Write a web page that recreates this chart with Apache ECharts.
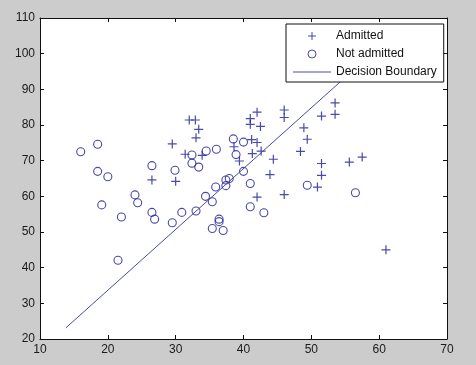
<!DOCTYPE html>
<html>
<head>
<meta charset="utf-8">
<script src="https://cdn.jsdelivr.net/npm/echarts@6/dist/echarts.min.js"></script>
<style>
html,body{margin:0;padding:0;background:#cccccc;}
#chart{width:476px;height:365px;}
</style>
</head>
<body>
<div id="chart"></div>
<script>
var seriesNames = ['Admitted', 'Not admitted', 'Decision Boundary'];
var admitted = [
  [32.0,81.4],[32.9,81.4],[33.4,78.8],[33.0,76.4],[29.5,74.7],[31.4,71.8],[33.9,71.5],[26.5,64.6],[30.0,64.2],
  [41.0,81.8],[41.0,80.2],[42.0,83.6],[42.5,79.6],[41.2,75.9],[42.0,75.1],[38.6,73.9],[41.3,72.0],[42.6,72.7],
  [39.4,69.9],[44.4,70.4],[43.9,66.1],[42.0,59.8],[46.0,84.2],[46.0,82.1],[46.0,60.5],[48.9,79.2],[49.4,76.0],
  [48.4,72.6],[51.5,82.5],[53.5,86.2],[53.5,83.0],[51.5,69.2],[51.5,65.9],[50.9,62.6],[55.6,69.6],[57.5,71.0],
  [61.0,45.0]
];
var notAdmitted = [
  [16.0,72.5],[18.5,74.6],[18.5,67.0],[20.0,65.5],[19.1,57.6],[22.0,54.2],[21.5,42.1],[24.0,60.4],[24.4,58.2],
  [26.5,68.6],[26.5,55.5],[26.9,53.6],[29.5,52.6],[29.9,67.3],[30.9,55.5],[32.4,71.6],[32.4,69.3],[33.4,68.2],
  [33.0,55.9],[34.5,72.7],[34.4,60.0],[35.4,58.5],[35.4,51.0],[36.0,73.2],[35.9,62.6],[36.4,53.6],[36.4,52.9],
  [37.0,50.4],[37.4,64.6],[37.4,63.0],[37.9,65.0],[38.5,76.1],[38.9,71.7],[40.0,75.2],[40.0,67.0],[41.0,63.6],
  [41.0,57.1],[43.0,55.4],[49.4,63.1],[56.5,61.0]
];
var boundary = [[13.8,23.1],[63.0,107.0]];
var xTicks = {min: 10, max: 70, interval: 10};
var yTicks = {min: 20, max: 110, interval: 10};

var markColor = '#1c1c96';
var lineColor = '#4a4aa6';
var font = 'Liberation Sans, Arial, sans-serif';
var plusPath = 'path://M0,5L10,5M5,0L5,10';

function axisCommon(showLabel) {
  return {
    axisLine: {show: true, onZero: false, lineStyle: {color: '#111', width: 1}},
    axisTick: {show: true, inside: true, length: 4, lineStyle: {color: '#111'}},
    axisLabel: {show: showLabel, color: '#1a1a1a', fontSize: 12, fontFamily: font, margin: 5},
    splitLine: {show: false}
  };
}

var chart = echarts.init(document.getElementById('chart'), null, {renderer: 'canvas'});
var option = {
  backgroundColor: '#cccccc',
  animation: false,
  grid: {left: 40, top: 18, right: 29, bottom: 26, show: true, backgroundColor: '#ffffff', borderWidth: 0},
  xAxis: [
    Object.assign({type: 'value', position: 'bottom'}, xTicks, axisCommon(true)),
    Object.assign({type: 'value', position: 'top'}, xTicks, axisCommon(false))
  ],
  yAxis: [
    Object.assign({type: 'value', position: 'left'}, yTicks, axisCommon(true)),
    Object.assign({type: 'value', position: 'right'}, yTicks, axisCommon(false))
  ],
  legend: {
    orient: 'vertical',
    left: 286,
    top: 24,
    padding: [6, 7, 4, 7],
    itemWidth: 38,
    itemHeight: 8,
    itemGap: 6,
    backgroundColor: '#ffffff',
    borderColor: '#111',
    borderWidth: 1,
    borderRadius: 0,
    itemStyle: {borderWidth: 1},
    textStyle: {color: '#111', fontSize: 12, lineHeight: 12, fontFamily: font},
    data: [
      {name: seriesNames[0]},
      {name: seriesNames[1]},
      {name: seriesNames[2], icon: 'path://M0,0L38,0L38,1L0,1Z'}
    ]
  },
  series: [
    {
      name: seriesNames[0], type: 'scatter', data: admitted,
      symbol: plusPath, symbolSize: 9,
      itemStyle: {color: 'rgba(0,0,0,0)', borderColor: markColor, borderWidth: 1.2}
    },
    {
      name: seriesNames[1], type: 'scatter', data: notAdmitted,
      symbol: 'circle', symbolSize: 8,
      itemStyle: {color: 'rgba(0,0,0,0)', borderColor: markColor, borderWidth: 1.1}
    },
    {
      name: seriesNames[2], type: 'line', data: boundary,
      symbol: 'none', showSymbol: false,
      lineStyle: {color: lineColor, width: 1},
      itemStyle: {color: lineColor}
    }
  ]
};
chart.setOption(option);
</script>
</body>
</html>
